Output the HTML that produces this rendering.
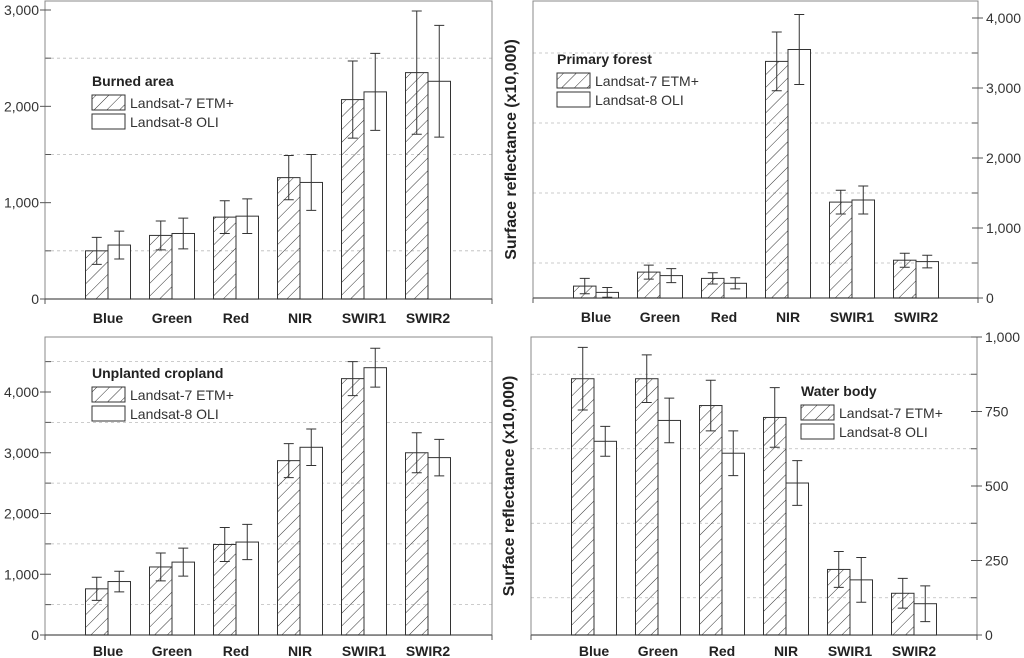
<!DOCTYPE html>
<html><head><meta charset="utf-8"><style>
html,body{margin:0;padding:0;background:#fff;}
svg{display:block;font-family:"Liberation Sans",Arial,sans-serif;}
</style></head><body>
<svg id="c" width="1024" height="658" viewBox="0 0 1024 658" xmlns="http://www.w3.org/2000/svg">
<defs>
<pattern id="hatch" patternUnits="userSpaceOnUse" width="9" height="9" patternTransform="rotate(45)">
<line x1="0" y1="0" x2="0" y2="9" stroke="#333" stroke-width="1"/>
</pattern>
</defs>
</svg>
<script>
const categories = ["Blue","Green","Red","NIR","SWIR1","SWIR2"];
const burnedL7 = [500,660,850,1260,2070,2350];
const burnedL7Err = [140,150,170,230,400,640];
const burnedL8 = [560,680,860,1210,2150,2260];
const burnedL8Err = [145,160,180,290,400,580];
const forestL7 = [170,370,280,3380,1370,540];
const forestL7Err = [110,100,80,420,170,100];
const forestL8 = [80,320,210,3550,1400,520];
const forestL8Err = [70,100,80,500,200,90];
const cropL7 = [760,1120,1490,2870,4220,3000];
const cropL7Err = [190,230,280,280,280,330];
const cropL8 = [880,1200,1530,3090,4400,2920];
const cropL8Err = [170,230,290,300,320,300];
const waterL7 = [860,860,770,730,220,140];
const waterL7Err = [105,80,85,100,60,50];
const waterL8 = [650,720,610,510,185,105];
const waterL8Err = [50,75,75,75,75,60];
const ticksBurned = [0,1000,2000,3000];
const ticksForest = [0,1000,2000,3000,4000];
const ticksCrop = [0,1000,2000,3000,4000];
const ticksWater = [0,250,500,750,1000];

const svg = document.getElementById('c');
const NS = 'http://www.w3.org/2000/svg';
function mk(tag, attrs, parent){
  const e = document.createElementNS(NS, tag);
  for (const k in attrs) e.setAttribute(k, attrs[k]);
  (parent||svg).appendChild(e);
  return e;
}
function fmt(v){ return v.toLocaleString('en-US'); }

function panel(o){
  const g = mk('g', {});
  
  
  const y = v => o.y0 - (v/o.max)*(o.y0 - o.top);
  const xc = i => o.x0 + o.firstC + i*o.step;
  const vmax = o.max * (o.y0 - o.frameTop) / (o.y0 - o.top);
  for (let v = o.grid; v < vmax; v += o.grid) {
    if (o.ticks.indexOf(v) >= 0) continue;
    const gl = mk('line', {x1:o.x0, x2:o.x1, y1:y(v), y2:y(v), stroke:'#bbb', 'stroke-dasharray':'3,3', 'stroke-width':0.8}, g);
    
    
    const tk = o.right ? mk('line',{x1:o.x1-6,x2:o.x1,y1:y(v),y2:y(v),stroke:'#555'},g) : mk('line',{x1:o.x0,x2:o.x0+6,y1:y(v),y2:y(v),stroke:'#555'},g);
    
    
  }
  const fr = mk('rect', {x:o.x0, y:o.frameTop, width:o.x1-o.x0, height:o.y0-o.frameTop, fill:'none', stroke:'#888', 'stroke-width':1}, g);
  
  
  const ax = mk('line', {x1:o.x0, x2:o.x1, y1:o.y0, y2:o.y0, stroke:'#555', 'stroke-width':1.2}, g);
  
  
  mk('line',{x1:o.x0,x2:o.x0,y1:o.y0,y2:o.y0+5,stroke:'#555'},g);
  mk('line',{x1:o.x1,x2:o.x1,y1:o.y0,y2:o.y0+5,stroke:'#555'},g);
  o.ticks.forEach(v => {
    const tx = o.right ? o.x1 : o.x0;
    const tk = mk('line', {x1: o.right? tx : tx-5, x2: o.right? tx+5 : tx, y1:y(v), y2:y(v), stroke:'#555'}, g);
    
    
    mk('line', {x1: o.right? tx-6 : tx, x2: o.right? tx : tx+6, y1:y(v), y2:y(v), stroke:'#555'}, g);
    const t = mk('text', {x: o.right? tx+8 : tx-6, y:y(v)+5, 'font-size':14, fill:'#333', 'text-anchor': o.right?'start':'end'}, g);
    t.textContent = fmt(v);
    
    
  });
  const bw = 22.5;
  categories.forEach((c,i) => {
    const cx = xc(i);
    [[o.a, o.ae, cx-bw, 'url(#hatch)'], [o.b, o.be, cx, '#fff']].forEach((s,k) => {
      const v = s[0][i], e = s[1][i];
      const r = mk('rect', {x:s[2], y:y(v), width:bw, height:o.y0-y(v), fill:s[3], stroke:'#333', 'stroke-width':1}, g);
      
      
      const ex = s[2] + bw/2;
      const eb = mk('path', {d:`M${ex},${y(v+e)}V${y(v-e)}M${ex-5},${y(v+e)}H${ex+5}M${ex-5},${y(v-e)}H${ex+5}`, stroke:'#333', 'stroke-width':1, fill:'none'}, g);
      
      
    });
    const t = mk('text', {x:cx, y:o.y0+o.labOff, 'font-size':14, 'font-weight':'bold', fill:'#222', 'text-anchor':'middle'}, g);
    t.textContent = c;
    
    
  });
  const lg = mk('g', {}, g);
  
  
  const lt = mk('text', {x:o.lx, y:o.ly, 'font-size':14, 'font-weight':'bold', fill:'#222'}, lg);
  lt.textContent = o.title;
  
  
  [['url(#hatch)','Landsat-7 ETM+'],['#fff','Landsat-8 OLI']].forEach((s,k) => {
    const ry = o.ly + 9 + k*19;
    mk('rect', {x:o.lx, y:ry, width:33, height:15, fill:s[0], stroke:'#333'}, lg);
    const tt = mk('text', {x:o.lx+38, y:ry+13, 'font-size':14, fill:'#333'}, lg);
    tt.textContent = s[1];
    
    
  });
  if (o.right) {
    const cy = (o.frameTop + o.y0)/2;
    const yt = mk('text', {x:0, y:0, transform:`translate(${o.x0-17},${cy}) rotate(-90)`, 'font-size':16, 'font-weight':'bold', fill:'#222', 'text-anchor':'middle'}, g);
    yt.textContent = 'Surface reflectance (x10,000)';
    
    
  }
}

panel({name:'panel-burned-area', x0:45, x1:492, y0:299, top:10, frameTop:1, max:3000, ticks:ticksBurned, grid:500, firstC:63, step:64, labOff:24, a:burnedL7, ae:burnedL7Err, b:burnedL8, be:burnedL8Err, title:'Burned area', lx:92, ly:86, right:false});
panel({name:'panel-primary-forest', x0:533, x1:978, y0:298, top:18, frameTop:1, max:4000, ticks:ticksForest, grid:500, firstC:63, step:64, labOff:24, a:forestL7, ae:forestL7Err, b:forestL8, be:forestL8Err, title:'Primary forest', lx:557, ly:64, right:true});
panel({name:'panel-unplanted-cropland', x0:45, x1:492, y0:635, top:392, frameTop:337, max:4000, ticks:ticksCrop, grid:500, firstC:63, step:64, labOff:21, a:cropL7, ae:cropL7Err, b:cropL8, be:cropL8Err, title:'Unplanted cropland', lx:92, ly:378, right:false});
panel({name:'panel-water-body', x0:531, x1:977, y0:635, top:337, frameTop:337, max:1000, ticks:ticksWater, grid:125, firstC:63, step:64, labOff:21, a:waterL7, ae:waterL7Err, b:waterL8, be:waterL8Err, title:'Water body', lx:801, ly:396, right:true});
</script>
</body></html>
